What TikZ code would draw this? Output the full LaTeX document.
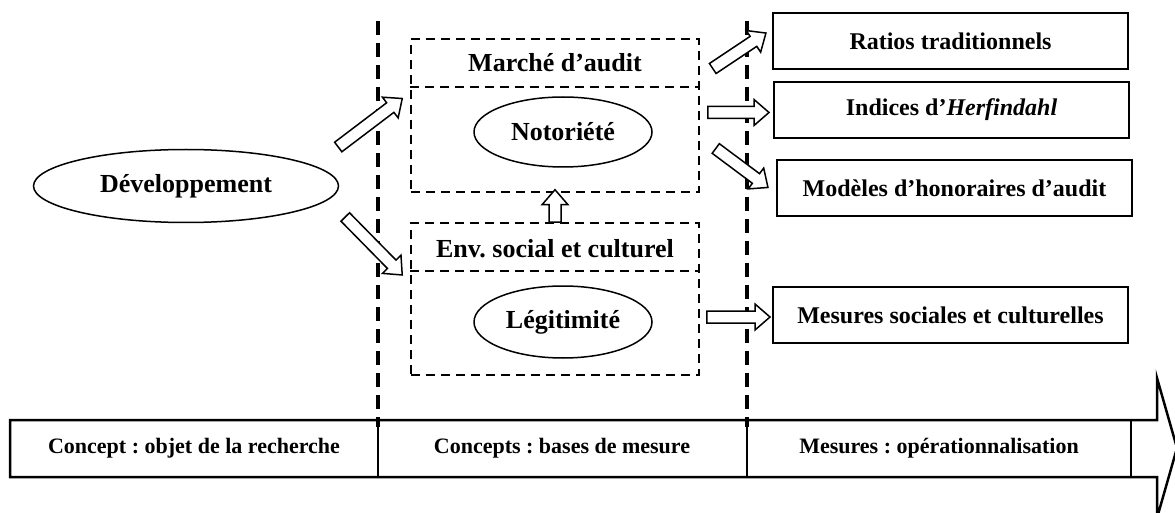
\documentclass[tikz,border=0pt]{standalone}
\usepackage{fontspec}
\setmainfont{Liberation Serif}
\usetikzlibrary{calc,shapes.geometric,positioning}
\frenchspacing

\tikzset{
  cadre/.style={draw, line width=2pt, minimum width=355pt, minimum height=56pt, inner sep=0pt,
    font=\fontsize{24}{28}\selectfont\bfseries},
  zone/.style={draw, line width=1.5pt, dash pattern=on 9pt off 6pt, minimum width=288pt, inner sep=0pt},
  titre/.style={font=\fontsize{26}{30}\selectfont\bfseries},
  bulle/.style={draw, ellipse, line width=1.5pt, inner sep=0pt, font=\fontsize{26}{30}\selectfont\bfseries},
  etape/.style={font=\fontsize{22}{26}\selectfont\bfseries},
  fleche/.style={draw, fill=white, line width=1.5pt, line join=miter},
  separation/.style={line width=4pt, dash pattern=on 14pt off 8pt},
}

% fleche creuse de #1 vers #2
\newcommand{\flechecreuse}[2]{%
  \draw[fleche] let \p1=(#1), \p2=(#2), \n1={atan2(\y2-\y1,\x2-\x1)}, \n2={veclen(\x2-\x1,\y2-\y1)} in
    [shift={(\p1)}, rotate=\n1] (0,6) -- (\n2-15,6) -- (\n2-15,13) -- (\n2,0)
    -- (\n2-15,-13) -- (\n2-15,-6) -- (0,-6) -- cycle;}

\begin{document}
\begin{tikzpicture}[x=1pt,y=-1pt]
    \useasboundingbox (0,0) rectangle (1175,513);

    \draw[line width=2.5pt,line join=miter] (10,420) -- (1157,420) -- (1157,378) -- (1177,448)
                                            -- (1157,518) -- (1157,477) -- (10,477) -- cycle;
    \draw[line width=2pt] (1131,420) -- (1131,477);
    \draw[line width=1.5pt] (378,420) -- (378,477)
                            (747,420) -- (747,477);
    \node[etape] (objet)  at (194,448) {Concept : objet de la recherche};
    \node[etape] (bases)  at (562,448) {Concepts : bases de mesure};
    \node[etape] (operat) at (939,448) {Mesures : opérationnalisation};

    \draw[separation] (378,21) -- (378,427);
    \draw[separation] (747,21) -- (747,427);

    \node[bulle, minimum width=305pt, minimum height=73pt] (dev) at (186,186) {Développement};

    \begin{scope}   % Concepts : bases de mesure
        \node[zone, minimum height=153pt] (marche) at (555,115.5) {};
        \draw[line width=1.5pt, dash pattern=on 9pt off 6pt] (marche.west |- 0,87) -- (marche.east |- 0,87);
        \node[titre] (tmarche) at (555,63) {Marché d’audit};
        \node[bulle, minimum width=178pt, minimum height=70pt] (notoriete) at (563,132) {Notoriété};

        \node[zone, minimum height=152pt] (env) at (555,299) {};
        \draw[line width=1.5pt, dash pattern=on 9pt off 6pt] (env.west |- 0,271) -- (env.east |- 0,271);
        \node[titre] (tenv) at (555,249) {Env. social et culturel};
        \node[bulle, minimum width=178pt, minimum height=72pt] (legitimite) at (563,322) {Légitimité};
    \end{scope}

    \node[cadre] (ratios)  at (950.5,41)  {Ratios traditionnels};
    \node[cadre] (indices) at (951.5,110) {Indices d’\textit{Herfindahl}};
    \node[cadre] (modeles) at (954.5,188.5) {Modèles d’honoraires d’audit};
    \node[cadre] (mesures) at (950.5,315) {Mesures sociales et culturelles};

    \coordinate (d1) at ([shift={(-1,-39)}]dev.east);
    \coordinate (d2) at ([shift={(6,31)}]dev.east);
    \coordinate (m1) at ([shift={(13,-47)}]marche.east);
    \coordinate (m2) at ([shift={(8,-3)}]marche.east);
    \coordinate (m3) at ([shift={(16,33)}]marche.east);
    \coordinate (e1) at ([shift={(7,18)}]env.east);

    \flechecreuse{d1}{[shift={(-8,-17)}]marche.west}
    \flechecreuse{d2}{[shift={(-8,-24)}]env.west}
    \flechecreuse{m1}{[shift={(-6,-8)}]ratios.west}
    \flechecreuse{m2}{[shift={(-4,2.5)}]indices.west}
    \flechecreuse{m3}{[shift={(-8,-1)}]modeles.west}
    \flechecreuse{e1}{[shift={(-2,2)}]mesures.west}
    \flechecreuse{env.north}{[yshift=3]marche.south}
\end{tikzpicture}
\end{document}
